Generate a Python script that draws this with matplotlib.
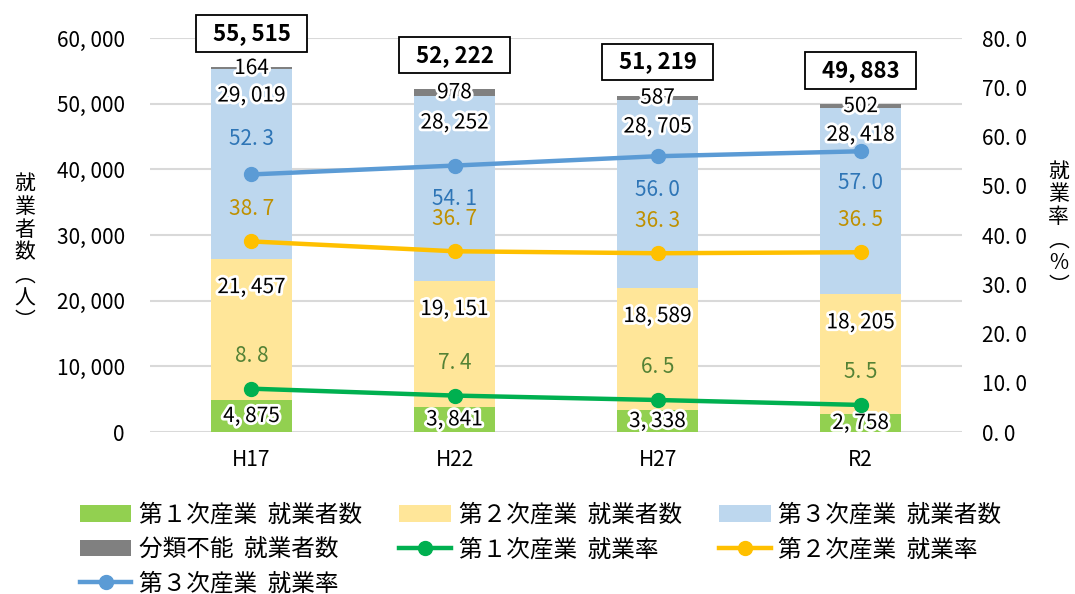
import matplotlib
matplotlib.use("Agg")
import matplotlib.pyplot as plt
import matplotlib.patheffects as pe
import numpy as np

plt.rcParams['font.family'] = ['Noto Sans CJK JP', 'DejaVu Sans']

# data
years = ['H17', 'H22', 'H27', 'R2']
primary = [4875, 3841, 3338, 2758]
secondary = [21457, 19151, 18589, 18205]
tertiary = [29019, 28252, 28705, 28418]
unknown = [164, 978, 587, 502]
totals = [55515, 52222, 51219, 49883]
rate1 = [8.8, 7.4, 6.5, 5.5]
rate2 = [38.7, 36.7, 36.3, 36.5]
rate3 = [52.3, 54.1, 56.0, 57.0]

# label offsets (pixels, up is positive) for the rate labels
rate3_off = [35, -33, -34, -32]
rate2_off = [32, 32, 32, 32]
rate1_off = [33, 33, 33, 33]

C_G, C_Y, C_B, C_U = '#92D050', '#FFE699', '#BDD7EE', '#808080'
L_G, L_Y, L_B = '#00B050', '#FFC000', '#5B9BD5'
T_G, T_Y, T_B = '#548235', '#BF9000', '#2E75B6'


def fmt(v):
    return f'{v:,}'.replace(',', ', ')


def fmt1(v):
    return f'{v:.1f}'.replace('.', '. ')


glow = [pe.withStroke(linewidth=4, foreground='white')]

fig = plt.figure(figsize=(10.75, 5.94), dpi=100)
ax = fig.add_axes([0.1395, 0.2727, 0.7555, 0.6633])
ax2 = ax.twinx()

x = np.arange(len(years))
w = 0.4
b1 = ax.bar(x, primary, w, color=C_G, zorder=2)
bot2 = np.array(primary)
b2 = ax.bar(x, secondary, w, bottom=bot2, color=C_Y, zorder=2)
bot3 = bot2 + np.array(secondary)
b3 = ax.bar(x, tertiary, w, bottom=bot3, color=C_B, zorder=2)
bot4 = bot3 + np.array(tertiary)
b4 = ax.bar(x, unknown, w, bottom=bot4, color=C_U, zorder=2)

ax.set_ylim(0, 60000)
ax.set_xlim(-0.5, len(years) - 0.5)
ax.set_yticks(np.arange(0, 60001, 10000))
ax.set_yticklabels([fmt(v) for v in range(0, 60001, 10000)], fontsize=15)
ax.set_xticks(x)
ax.set_xticklabels(years, fontsize=15)
ax.grid(axis='y', color='#D9D9D9', linewidth=1.5, zorder=0)
ax.set_axisbelow(True)
ax.tick_params(length=0, pad=18)
ax.tick_params(axis='x', pad=12)
for s in ax.spines.values():
    s.set_visible(False)

ax2.set_ylim(0, 80)
ax2.set_yticks(np.arange(0, 81, 10))
ax2.set_yticklabels([fmt1(v) for v in range(0, 81, 10)], fontsize=15)
ax2.tick_params(length=0, pad=14)
for s in ax2.spines.values():
    s.set_visible(False)

l1, = ax2.plot(x, rate1, color=L_G, lw=3.2, marker='o', ms=10, zorder=3)
l2, = ax2.plot(x, rate2, color=L_Y, lw=3.2, marker='o', ms=10, zorder=3)
l3, = ax2.plot(x, rate3, color=L_B, lw=3.2, marker='o', ms=10, zorder=3)

# bar labels
for i in range(len(years)):
    ax.text(x[i], primary[i] / 2, fmt(primary[i]), ha='center', va='center',
            fontsize=15, path_effects=glow, zorder=6)
    ax.annotate(fmt(secondary[i]), (x[i], bot3[i]), xytext=(0, -28),
                textcoords='offset pixels', ha='center', va='center',
                fontsize=15, path_effects=glow, zorder=6)
    ax.annotate(fmt(tertiary[i]), (x[i], bot4[i]), xytext=(0, -27),
                textcoords='offset pixels', ha='center', va='center',
                fontsize=15, path_effects=glow, zorder=6)
    ax.text(x[i], bot4[i] + unknown[i] / 2, fmt(unknown[i]), ha='center',
            va='center', fontsize=15, path_effects=glow, zorder=6)
    ax.annotate('  ' + fmt(totals[i]) + '  ', (x[i], totals[i]), xytext=(0, 34),
                textcoords='offset pixels', ha='center', va='center',
                fontsize=16, fontweight='bold', zorder=7,
                bbox=dict(boxstyle='square,pad=0.3', fc='white', ec='black', lw=1.3))

# rate labels (drawn on top of everything)
for rates, offs, col in ((rate1, rate1_off, T_G), (rate2, rate2_off, T_Y),
                         (rate3, rate3_off, T_B)):
    for i in range(len(years)):
        ax2.annotate(fmt1(rates[i]), (x[i], rates[i]), xytext=(0, offs[i]),
                     textcoords='offset pixels', ha='center', va='center',
                     fontsize=15, color=col, zorder=6)

# vertical axis titles
fig.text(0.023, 0.575, '\n'.join('就業者数︵人︶'),
         ha='center', va='center', fontsize=15, linespacing=1.05)
fig.text(0.985, 0.615, '\n'.join('就業率︵%︶'),
         ha='center', va='center', fontsize=15, linespacing=1.05)

handles = [b1, b4, l3, b2, l1, b3, l2]
labels = ['第１次産業  就業者数', '分類不能  就業者数', '第３次産業  就業率',
          '第２次産業  就業者数', '第１次産業  就業率',
          '第３次産業  就業者数', '第２次産業  就業率']
fig.legend(handles, labels, ncol=3, loc='upper left',
           bbox_to_anchor=(0.074, 0.152), frameon=False, fontsize=17,
           handlelength=2.2, columnspacing=1.6, labelspacing=0.48,
           handletextpad=0.3, borderaxespad=0, borderpad=0)

fig.savefig('out.png', dpi=100)
